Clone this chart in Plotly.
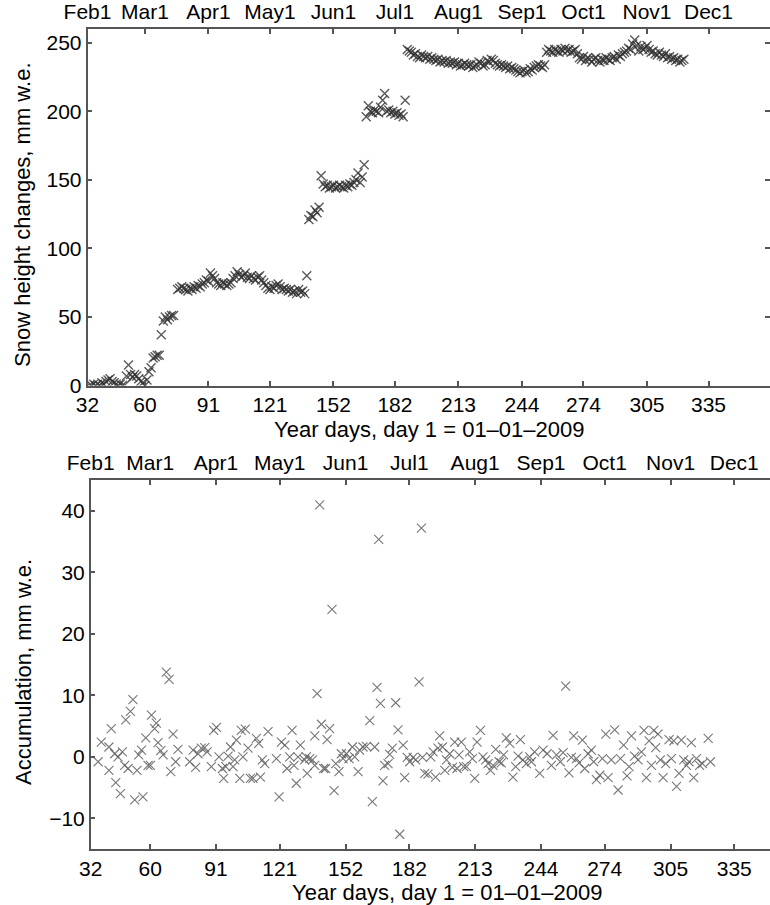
import plotly.graph_objects as go

# ---------------- data ----------------
month_days = [32, 60, 91, 121, 152, 182, 213, 244, 274, 305, 335]
month_labels = ["Feb1", "Mar1", "Apr1", "May1", "Jun1", "Jul1", "Aug1",
                "Sep1", "Oct1", "Nov1", "Dec1"]
day_ticks = [32, 60, 91, 121, 152, 182, 213, 244, 274, 305, 335]

snow_day = list(range(33, 75)) + list(range(76, 324))
snow_val = [
    0, 0, 1, 0, 1, 0, 2, 1, 3, 4,
    5, 3, 2, 1, 0, 1, 0, 0, 7, 15,
    8, 6, 8, 7, 5, 3, 2, 0, 4, 10,
    13, 20, 21, 22, 22, 37, 47, 50, 48, 50,
    51, 51,
    70, 71, 72, 71, 70, 69, 71, 70, 72, 71,
    73, 72, 74, 75, 77, 76, 82, 80, 78, 75,
    74, 73, 75, 74, 73, 74, 75, 78, 80, 83,
    81, 79, 80, 82, 79, 78, 80, 78, 77, 79,
    80, 77, 75, 73, 71, 70, 72, 71, 73, 74,
    72, 70, 71, 70, 69, 70, 68, 69, 67, 70,
    68, 69, 67, 80, 121, 124, 123, 128, 126, 130,
    153, 147, 145, 146, 144, 145, 146, 144, 145, 146,
    145, 144, 146, 145, 147, 146, 148, 150, 155, 148,
    152, 161, 196, 204, 200, 199, 201, 200, 199, 203,
    208, 213, 200, 201, 199, 200, 198, 199, 197, 198,
    196, 208, 245, 244, 243, 241, 242, 240, 239, 241,
    240, 239, 240, 238, 239, 238, 237, 238, 236, 237,
    236, 237, 235, 236, 235, 236, 234, 235, 233, 234,
    235, 234, 233, 234, 232, 233, 234, 236, 235, 233,
    234, 237, 236, 238, 237, 235, 234, 233, 234, 233,
    232, 233, 231, 232, 231, 230, 229, 228, 229, 230,
    228, 229, 231, 230, 232, 233, 234, 233, 232, 234,
    243, 245, 244, 243, 245, 244, 243, 245, 244, 246,
    244, 245, 243, 244, 245, 242, 239, 238, 240, 237,
    239, 238, 236, 238, 239, 237, 236, 238, 237, 239,
    238, 237, 239, 240, 238, 241, 240, 242, 243, 244,
    246, 245, 249, 252, 248, 244, 247, 245, 246, 248,
    245, 243, 244, 242, 241, 243, 241, 240, 242, 239,
    240, 238, 239, 237, 238, 236, 237, 238,
]

acc_day = [
    35.5, 37, 40.6, 40.6, 41.7, 43.3, 43.8, 44.9, 46, 46.9,
    48, 48.5, 49.6, 50.7, 51.9, 52.7, 53.8, 54.6, 55.9, 56.6,
    57.9, 59, 60.1, 60.6, 62.1, 62.9, 63.7, 65, 66.1, 67.6,
    68.9, 69.7, 70.8, 72, 73.1, 78.6, 80.2, 81.4, 82.5, 84.1,
    85.7, 86.8, 88.8, 89.9, 91.2, 92.4, 94, 94.6, 95.6, 96.7,
    97.8, 99, 99.8, 100.6, 102.2, 102.9, 103.7, 104.8, 106.1, 107.2,
    108.4, 110, 111.1, 111.9, 112.8, 113.9, 115.5, 119.4, 120.7, 121.8,
    123.4, 124.4, 125.7, 126.8, 127.7, 128.8, 129.6, 130.7, 132.7, 133.5,
    133.9, 135.1, 136.4, 137.5, 137.5, 138.6, 139.8, 140.6, 141.7, 142.6,
    143.3, 144.5, 145.6, 146.6, 147.4, 148.9, 150, 150.8, 152.4, 153.6,
    155.2, 156.3, 157.9, 158.6, 160.2, 161.8, 163.4, 164.6, 165.7, 166.8,
    167.6, 168.4, 169.6, 170.4, 172, 172.8, 174, 175.6, 176.7, 177.5,
    179.1, 179.8, 181, 182.2, 183.8, 185, 186.6, 187.7, 188.2, 189.3,
    190.8, 192.1, 193.2, 194.4, 195.5, 196.3, 197.6, 198.7, 199.5, 201,
    202.3, 203.4, 204.5, 205.4, 206.5, 207.6, 208.9, 210.4, 211.7, 212.8,
    213.9, 215.5, 216.7, 218, 219.1, 220.2, 221.4, 222.7, 224.3, 225.3,
    226.4, 227.7, 229.3, 230.8, 232.1, 233.2, 234.3, 235.5, 237.1, 238.7,
    239.5, 241, 243.4, 245, 246.9, 248.9, 249.7, 251.3, 253.1, 254.4,
    255.6, 257.2, 258.3, 259.4, 260.7, 261.9, 263.5, 264.6, 266.2, 267.7,
    268.8, 270.1, 271.7, 272.9, 274.5, 275.6, 277.1, 278.7, 280.3, 281.4,
    282.9, 284.5, 285.5, 286.6, 288.1, 289.7, 291.3, 292.5, 293.6, 294.9,
    296, 297.1, 298, 299.1, 300.2, 301.5, 302.7, 304.3, 305.4, 306.5,
    307.8, 309, 310.1, 311.2, 312.5, 313.7, 314.8, 315.9, 317.2, 318.7,
    320, 322.7, 323.8,
]
acc_val = [
    -0.8, 2.4, 1.6, -2.2, 4.6, 0.5, -4.2, 0, -6, 0.8,
    -1.4, 6.0, -1.9, 7.4, 9.3, -7.0, -2.2, 0.3, 1.1, -6.5,
    3.1, -1.4, -1.4, 6.8, 4.6, 5.5, 2.3, 1, 0.3, 13.8,
    12.6, -2.4, 3.7, -0.8, 1.2, -0.8, 1.1, -1.7, 0.5, 1.4,
    1.5, 0.8, -1.6, 4.3, 4.8, 0, -1.9, -3.5, -1.6, 0.1,
    1.6, -1.6, -0.5, 2.7, -3.5, 4.3, 0, 4.5, 1.4, -3.5,
    -3.5, 3.0, 2.2, -3.3, -0.5, -1.1, 4.1, -0.3, -6.5, 2.4,
    1.9, -1.9, 0, 4.3, -1.4, -4.3, 0, 1.9, -0.5, 0,
    -2.7, -0.3, -0.5, -1.4, 3.4, 10.3, 41.0, 5.3, -1.9, -1.9,
    2.8, 4.6, 24.0, -5.5, -1.1, -2.4, 0.5, -0.3, 0.5, -0.3,
    1.6, 0, -2.4, 1.1, 1.6, 1.7, 5.9, -7.3, 1.6, 11.3,
    35.4, 8.7, -3.9, -1.4, -1.1, 0.4, 1.4, 8.8, 4.4, -12.6,
    1.9, -3.4, -0.1, -0.8, -0.1, -0.5, 12.2, 37.2, -0.1, -2.7,
    -2.8, 0, 0.8, -3.3, 1.4, 3.4, 1.6, -2.2, -0.5, 0.5,
    -1.7, 2.4, -1.9, 0.3, 2.4, -1.6, -1.6, 0.8, -0.3, -3.5,
    2.4, 4.3, 0, -0.5, -1.1, -2.2, -1.4, 1.2, -0.8, -1,
    0.3, 3.1, 2.2, -3.3, -1.6, 0.1, 2.8, -0.5, -1.1, 0,
    -0.8, 0.8, -2.7, 1.1, 0.5, -1.4, 3.5, 0.3, -0.8, 0.7,
    11.5, -2.6, -0.1, 3.4, -0.3, -1, 2.7, -1.9, 0.5, 1.1,
    -0.8, -3.7, -3.0, -0.3, 3.7, -3.4, -0.5, 4.4, -5.4, -0.3,
    1.9, -3.1, -1.6, 3.4, 0.1, -0.5, 0.8, 4.3, -3.4, 2.6,
    -1.4, 4.3, 1.5, 3.7, -0.5, -3.4, -1.1, 2.8, -0.3, 2.6,
    -4.8, -2.7, 2.7, -0.5, -1.4, -0.8, 2.3, -3.4, -0.3, -1.4,
    -1.1, 3.0, -0.8,
]

# ---------------- layout geometry (pixels) ----------------
W, H = 770, 905
FONT = "Liberation Sans, Arial, Helvetica, sans-serif"
AXC = "#555555"


def fx(px):
    return px / W


def fy(py):
    return 1 - py / H


fig = go.Figure()

fig.add_trace(go.Scatter(
    x=snow_day, y=snow_val, mode="markers", xaxis="x", yaxis="y",
    marker=dict(symbol="x-thin", size=9, line=dict(width=1.4, color="rgba(50,50,50,0.8)")),
    hoverinfo="skip", showlegend=False))
# carrier for the month axis on top of the upper panel
fig.add_trace(go.Scatter(
    x=snow_day, y=snow_val, mode="markers", xaxis="x3", yaxis="y",
    marker=dict(opacity=0), hoverinfo="skip", showlegend=False))

fig.add_trace(go.Scatter(
    x=acc_day, y=acc_val, mode="markers", xaxis="x2", yaxis="y2",
    marker=dict(symbol="x-thin", size=9, line=dict(width=1.1, color="rgba(95,95,95,0.85)")),
    hoverinfo="skip", showlegend=False))
fig.add_trace(go.Scatter(
    x=acc_day, y=acc_val, mode="markers", xaxis="x4", yaxis="y2",
    marker=dict(opacity=0), hoverinfo="skip", showlegend=False))

tickfont = dict(family=FONT, size=21, color="black")
common = dict(showline=True, linecolor=AXC, linewidth=1.5, ticks="inside",
              ticklen=5, tickcolor=AXC, tickwidth=1.5, showgrid=False,
              zeroline=False, tickfont=tickfont, automargin=False)

top_dom_x = [fx(87.5), 1.0]
top_dom_y = [fy(385.5), fy(29)]
bot_dom_x = [fx(90.7), 1.0]
bot_dom_y = [fy(849), fy(480.3)]
bot_xmax = 32 + (770 - 90.7) / 2.124

fig.update_layout(
    width=W, height=H,
    margin=dict(l=0, r=0, t=0, b=0),
    paper_bgcolor="white", plot_bgcolor="white",
    font=dict(family=FONT, size=21, color="black"),
    xaxis=dict(domain=top_dom_x, range=[32, 365], anchor="y",
               tickvals=day_ticks, ticktext=[str(d) for d in day_ticks], **common),
    xaxis3=dict(domain=top_dom_x, range=[32, 365], anchor="y", overlaying="x", side="top",
                tickvals=month_days, ticktext=month_labels, **common),
    yaxis=dict(domain=top_dom_y, range=[0, 260], anchor="x",
               tickvals=[0, 50, 100, 150, 200, 250], mirror="ticks", **common),
    xaxis2=dict(domain=bot_dom_x, range=[32, bot_xmax], anchor="y2",
                tickvals=day_ticks, ticktext=[str(d) for d in day_ticks], **common),
    xaxis4=dict(domain=bot_dom_x, range=[32, bot_xmax], anchor="y2", overlaying="x2", side="top",
                tickvals=month_days, ticktext=month_labels, **common),
    yaxis2=dict(domain=bot_dom_y, range=[-15, 45], anchor="x2",
                tickvals=[-10, 0, 10, 20, 30, 40], **common),
)

titlefont = dict(family=FONT, size=22, color="black")
fig.add_annotation(text="Snow height changes, mm w.e.", xref="paper", yref="paper",
                   x=fx(23), y=fy(215), textangle=-90, showarrow=False,
                   xanchor="center", yanchor="middle", font=titlefont)
fig.add_annotation(text="Accumulation, mm w.e.", xref="paper", yref="paper",
                   x=fx(23), y=fy(672), textangle=-90, showarrow=False,
                   xanchor="center", yanchor="middle", font=titlefont)
fig.add_annotation(text="Year days, day 1 = 01\u201201\u20122009", xref="paper", yref="paper",
                   x=fx(429), y=fy(429), showarrow=False,
                   xanchor="center", yanchor="middle", font=titlefont)
fig.add_annotation(text="Year days, day 1 = 01\u201201\u20122009", xref="paper", yref="paper",
                   x=fx(447), y=fy(892), showarrow=False,
                   xanchor="center", yanchor="middle", font=titlefont)

fig.write_html("out.html")
